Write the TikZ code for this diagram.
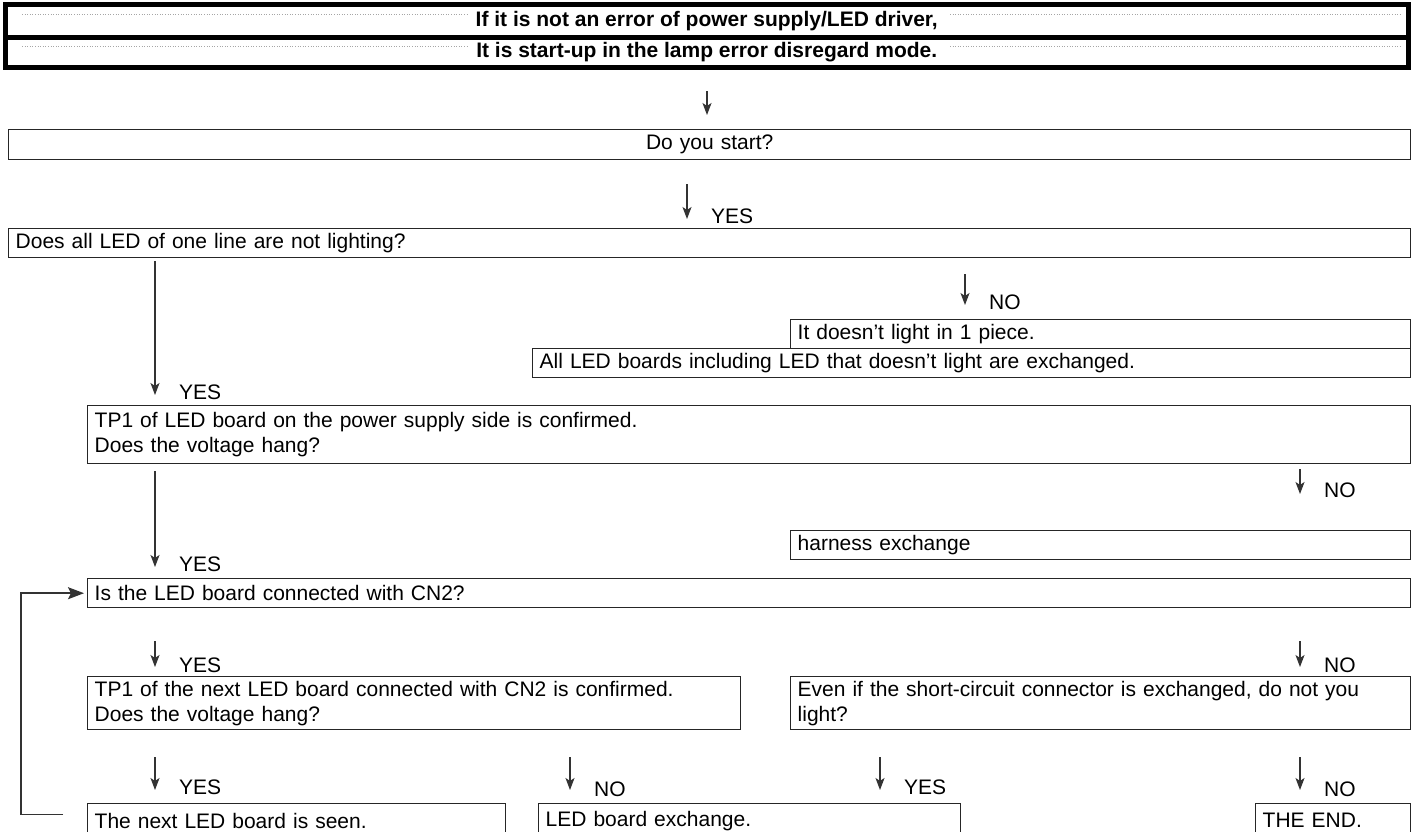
\documentclass[tikz,border=0pt]{standalone}
\usepackage{fontspec}
\setmainfont{Liberation Sans}
\usetikzlibrary{arrows.meta,calc}
\begin{document}
\begin{tikzpicture}[x=1pt,y=-1pt,
  every node/.style={font=\fontsize{21}{25}\selectfont, inner sep=0pt},
  hdr/.style={draw=black, line width=5pt, anchor=north west, align=center},
  box/.style={draw=black!85, line width=1.4pt, anchor=north west, inner xsep=7pt, inner ysep=0pt, align=left},
  arr/.style={draw=black!80, line width=1.2pt, -{Stealth[length=12pt,width=9pt,inset=3pt]}},
  looparr/.style={draw=black!80, line width=1.5pt, -{Stealth[length=16pt,width=12pt,inset=3pt]}},
  lab/.style={anchor=west},
  hdots/.style={draw=black!35, line width=0.6pt, dotted}
]
\useasboundingbox (0,0) rectangle (1417,831);
\fill[white] (0,0) rectangle (1417,831);

% header
\node[hdr, minimum width=1403.5pt, minimum height=32.5pt] (h1) at (2.5,2) {\bfseries If it is not an error of power supply/LED driver,};
\node[hdr, minimum width=1403.5pt, minimum height=30.5pt] (h2) at (2.5,34.5) {\bfseries It is start-up in the lamp error disregard mode.};
\draw[hdots] (22,14) -- (468,14) (950,14) -- (1400,14);
\draw[hdots] (22,46) -- (468,46) (950,46) -- (1400,46);

% boxes
\node[box, text width=1388pt, minimum height=30pt, align=center] (A) at (8,129) {Do you start?};
\node[box, text width=1388pt, minimum height=29pt] (B) at (8,228) {Does all LED of one line are not lighting?};
\node[box, text width=606pt, minimum height=29pt] (C1) at (790,319) {It doesn't light in 1 piece.};
\node[box, text width=864pt, minimum height=29pt] (C2) at (532,348) {All LED boards including LED that doesn't light are exchanged.};
\node[box, text width=1309pt, minimum height=58pt] (D) at (87,405) {TP1 of LED board on the power supply side is confirmed.\\Does the voltage hang?};
\node[box, text width=606pt, minimum height=29pt] (HX) at (790,530) {harness exchange};
\node[box, text width=1309pt, minimum height=29pt] (E) at (87,578) {Is the LED board connected with CN2?};
\node[box, text width=639pt, minimum height=53pt] (F) at (87,676) {TP1 of the next LED board connected with CN2 is confirmed.\\Does the voltage hang?};
\node[box, text width=606pt, minimum height=53pt] (G) at (790,676) {Even if the short-circuit connector is exchanged, do not you\\light?};
\node[box, text width=404pt, minimum height=34pt] (H1) at (87,803) {The next LED board is seen.};
\node[box, text width=408pt, minimum height=34pt] (H2) at (538,803) {LED board exchange.};
\node[box, text width=141pt, minimum height=34pt] (H3) at (1255,803) {THE END.};

% connectors
\draw[arr, shorten <=21pt, shorten >=14pt] (h2.south -| 707,0) -- (A.north -| 707,0);
\draw[arr, shorten <=24pt, shorten >=9pt] (A.south -| 687,0) -- (B.north -| 687,0);
\node[lab] (l1) at (711,216) {YES};
\draw[arr, shorten <=3pt, shorten >=10pt] (B.south -| 155,0) -- (D.north -| 155,0);
\node[lab] (l2) at (179,392) {YES};
\draw[arr, shorten <=16pt, shorten >=14pt] (B.south -| 965,0) -- (C1.north -| 965,0);
\node[lab] (l3) at (989,302) {NO};
\draw[arr, shorten <=5pt, shorten >=36pt] (D.south -| 1300,0) -- (HX.north -| 1300,0);
\node[lab] (l4) at (1324,490) {NO};
\draw[arr, shorten <=7pt, shorten >=11pt] (D.south -| 155,0) -- (E.north -| 155,0);
\node[lab] (l5) at (179,564) {YES};
\draw[arr, shorten <=33pt, shorten >=9pt] (E.south -| 155,0) -- (F.north -| 155,0);
\node[lab] (l6) at (179,665) {YES};
\draw[arr, shorten <=33pt, shorten >=9pt] (E.south -| 1300,0) -- (G.north -| 1300,0);
\node[lab] (l7) at (1324,665) {NO};
\draw[arr, shorten <=27pt, shorten >=13pt] (F.south -| 155,0) -- (H1.north -| 155,0);
\node[lab] (l8) at (179,787) {YES};
\draw[arr, shorten <=27pt, shorten >=13pt] (F.south -| 570,0) -- (H2.north -| 570,0);
\node[lab] (l9) at (594,789) {NO};
\draw[arr, shorten <=27pt, shorten >=13pt] (G.south -| 880,0) -- (H2.north -| 880,0);
\node[lab] (l10) at (904,787) {YES};
\draw[arr, shorten <=27pt, shorten >=13pt] (G.south -| 1300,0) -- (H3.north -| 1300,0);
\node[lab] (l11) at (1324,789) {NO};

% loop back
\draw[looparr] ([xshift=-24pt,yshift=6pt]H1.west) -| ([xshift=-66pt]E.west) -- ([xshift=-3pt]E.west);
\end{tikzpicture}
\end{document}
